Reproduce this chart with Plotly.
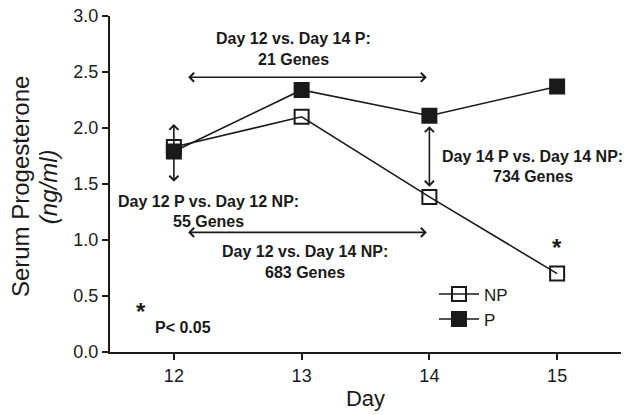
import plotly.graph_objects as go

days = [12, 13, 14, 15]
np_values = [1.83, 2.10, 1.385, 0.70]
p_values = [1.79, 2.34, 2.11, 2.37]
series_names = ["NP", "P"]
y_ticks = [0.0, 0.5, 1.0, 1.5, 2.0, 2.5, 3.0]

# double-headed comparison arrows: (x_start, y_start, x_end, y_end)
arrows = [
    (12.1, 2.453, 13.98, 2.453),
    (12.1, 1.068, 13.98, 1.068),
    (12.0, 2.05, 12.0, 1.52),
    (14.0, 2.03, 14.0, 1.475),
]
# comparison labels: (x, y, text)
labels = [
    (12.94, 2.80, "Day 12 vs. Day 14 P:"),
    (12.94, 2.614, "21 Genes"),
    (12.27, 1.341, "Day 12 P vs. Day 12 NP:"),
    (12.27, 1.162, "55 Genes"),
    (13.03, 0.895, "Day 12 vs. Day 14 NP:"),
    (13.03, 0.711, "683 Genes"),
    (14.81, 1.748, "Day 14 P vs. Day 14 NP:"),
    (14.81, 1.564, "734 Genes"),
]
star_points = [(15.0, 0.93), (11.74, 0.36)]
pvalue_note = (12.07, 0.217, "P< 0.05")
y_title_lines = ["Serum Progesterone", "<i>(ng/ml)</i>"]
x_title = "Day"

INK = "#1a1a1a"
FONT = "Liberation Sans, Arial, sans-serif"

fig = go.Figure()
fig.add_trace(go.Scatter(
    x=days, y=np_values, name=series_names[0], mode="lines+markers",
    line=dict(color=INK, width=1.6),
    marker=dict(symbol="square-open", size=14, color=INK, line=dict(width=2, color=INK)),
))
fig.add_trace(go.Scatter(
    x=days, y=p_values, name=series_names[1], mode="lines+markers",
    line=dict(color=INK, width=1.6),
    marker=dict(symbol="square", size=14, color=INK, line=dict(width=2, color=INK)),
))

annotations = []
for x0, y0, x1, y1 in arrows:
    annotations.append(dict(
        x=x1, y=y1, ax=x0, ay=y0, xref="x", yref="y", axref="x", ayref="y",
        text="", showarrow=True, arrowhead=4, startarrowhead=4, arrowside="end+start",
        arrowsize=1.1, startarrowsize=1.1, arrowwidth=1.6, arrowcolor=INK,
    ))
for x, y, t in labels:
    annotations.append(dict(
        x=x, y=y, xref="x", yref="y", text="<b>" + t + "</b>", showarrow=False,
        font=dict(family=FONT, size=16, color=INK),
    ))
for x, y in star_points:
    annotations.append(dict(
        x=x, y=y, xref="x", yref="y", text="<b>*</b>", showarrow=False,
        font=dict(family=FONT, size=24, color=INK),
    ))
annotations.append(dict(
    x=pvalue_note[0], y=pvalue_note[1], xref="x", yref="y",
    text="<b>" + pvalue_note[2] + "</b>", showarrow=False,
    font=dict(family=FONT, size=16, color=INK),
))
# y-axis title, two tightly spaced rotated lines
for xpos, t in zip([-0.176, -0.121], y_title_lines):
    annotations.append(dict(
        x=xpos, y=0.491, xref="paper", yref="paper", text=t, showarrow=False,
        textangle=-90, xanchor="center", yanchor="middle",
        font=dict(family=FONT, size=24, color=INK),
    ))

fig.update_layout(
    width=625, height=415,
    margin=dict(l=110, r=4, t=16, b=63),
    paper_bgcolor="white", plot_bgcolor="white",
    font=dict(family=FONT, color=INK),
    showlegend=True,
    legend=dict(x=0.634, y=0.225, xanchor="left", yanchor="top",
                bgcolor="rgba(0,0,0,0)", font=dict(size=17, family=FONT, color=INK),
                tracegroupgap=0, itemwidth=40),
    annotations=annotations,
    xaxis=dict(
        range=[11.5, 15.5], tickvals=days, ticktext=[str(d) for d in days],
        showline=True, linecolor=INK, linewidth=2, ticks="outside", ticklen=6,
        tickwidth=1.5, tickcolor=INK, showgrid=False, zeroline=False,
        tickfont=dict(size=18, family=FONT, color=INK),
        title=dict(text=x_title, font=dict(size=22, family=FONT, color=INK), standoff=6),
    ),
    yaxis=dict(
        range=[0, 3.0], tickvals=y_ticks, tickformat=".1f",
        showline=True, linecolor=INK, linewidth=2, ticks="outside", ticklen=6,
        tickwidth=1.5, tickcolor=INK, showgrid=False, zeroline=False,
        tickfont=dict(size=18, family=FONT, color=INK),
    ),
)

fig.write_html("out.html", config={"displayModeBar": False},
               post_script="document.body.style.margin='0';")
